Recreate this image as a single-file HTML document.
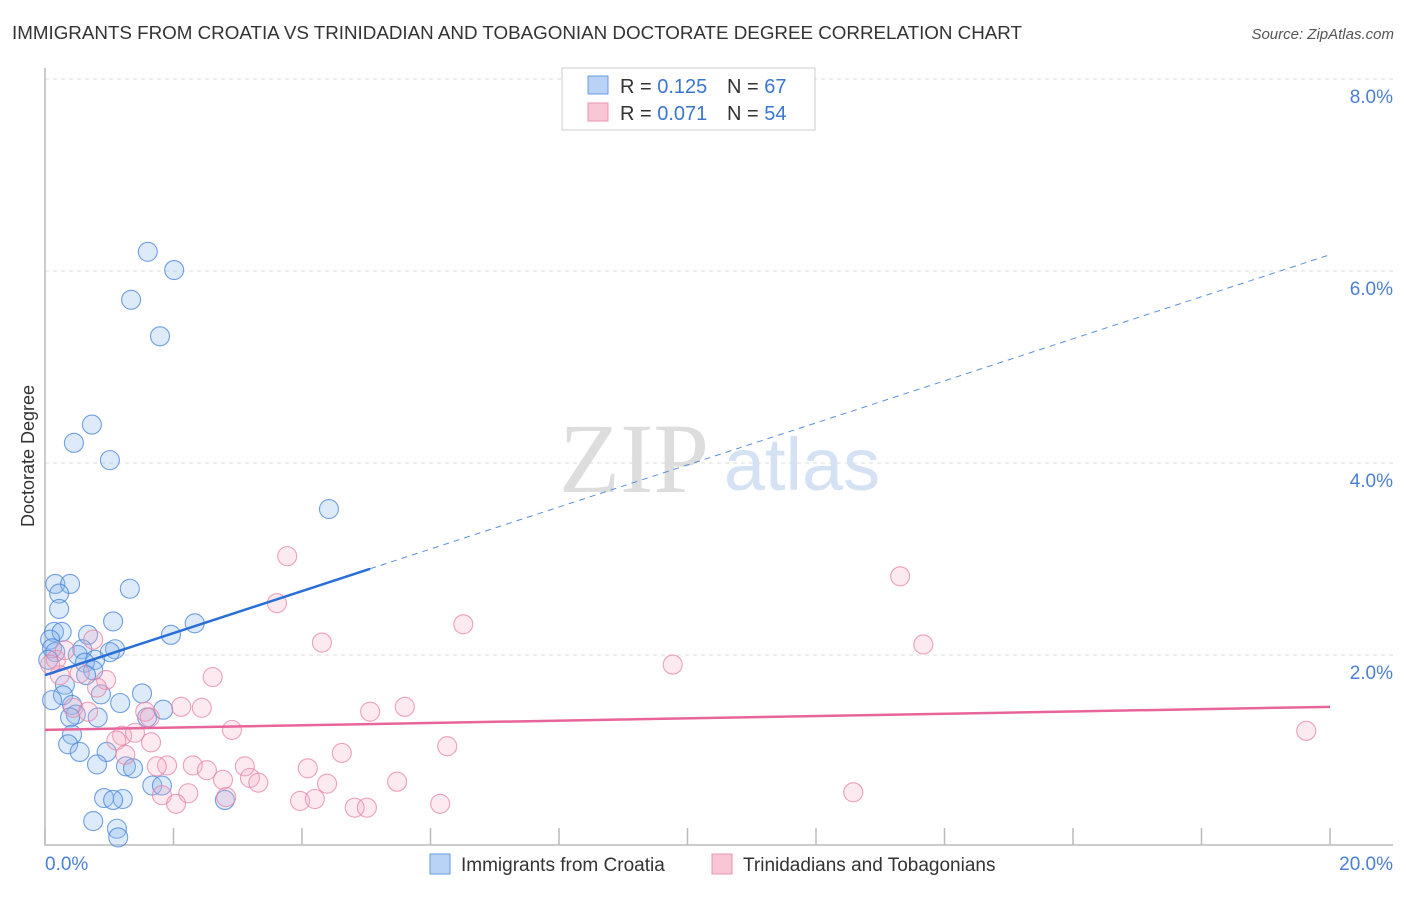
<!DOCTYPE html>
<html><head><meta charset="utf-8"><style>
body{margin:0;background:#fff;font-family:"Liberation Sans",sans-serif}
</style></head><body>
<svg id="c" width="1406" height="892" xmlns="http://www.w3.org/2000/svg">
<text x="12" y="39" font-size="18.8" fill="#333" textLength="1010">IMMIGRANTS FROM CROATIA VS TRINIDADIAN AND TOBAGONIAN DOCTORATE DEGREE CORRELATION CHART</text>
<text x="1394" y="39" font-size="15" fill="#555" font-style="italic" text-anchor="end">Source: ZipAtlas.com</text>
<text transform="translate(34,456) rotate(-90)" font-size="18" fill="#333" text-anchor="middle">Doctorate Degree</text>
<g><text x="634" y="492" font-size="100" fill="#ddd" font-family="Liberation Serif,serif" text-anchor="middle">ZIP</text><text x="802" y="490" font-size="74" fill="#d4e2f4" text-anchor="middle">atlas</text></g>
<g id="grid"></g><g id="pts"></g><g id="lines"></g>
<g>
<rect x="562" y="68" width="253" height="62" fill="#fff" stroke="#ccc"/>
<rect x="588" y="76" width="20" height="18" fill="#b8d3f5" stroke="#6a9be0"/>
<rect x="588" y="103" width="20" height="18" fill="#f9c6d6" stroke="#eb94b0"/>
<text x="620" y="93" font-size="20" fill="#333">R = <tspan fill="#3a76d0">0.125</tspan></text>
<text x="727" y="93" font-size="20" fill="#333">N = <tspan fill="#3a76d0">67</tspan></text>
<text x="620" y="120" font-size="20" fill="#333">R = <tspan fill="#3a76d0">0.071</tspan></text>
<text x="727" y="120" font-size="20" fill="#333">N = <tspan fill="#3a76d0">54</tspan></text>
</g>
<g>
<rect x="430" y="854" width="20" height="20" fill="#b8d3f5" stroke="#6a9be0"/>
<text x="461" y="871" font-size="19" fill="#333">Immigrants from Croatia</text>
<rect x="712" y="854" width="20" height="20" fill="#f9c6d6" stroke="#eb94b0"/>
<text x="743" y="871" font-size="19" fill="#333">Trinidadians and Tobagonians</text>
</g>
<text x="45" y="870" font-size="19" fill="#4a7fd4">0.0%</text>
<text x="1393" y="870" font-size="19" fill="#4a7fd4" text-anchor="end">20.0%</text>
</svg>
<script>
const yTicks=[2,4,6,8];
const yTickLabels=["2.0%","4.0%","6.0%","8.0%"];
const xTicks=[0,2,4,6,8,10,12,14,16,18,20];
const blueX=[1.60,2.01,1.34,1.79,0.73,0.45,1.01,4.42,0.16,0.39,0.22,1.32,0.22,1.06,2.33,0.14,0.26,0.67,1.96,0.08,1.09,0.11,0.58,0.51,1.01,0.78,0.16,0.62,0.75,0.64,0.31,0.28,0.87,1.51,1.17,1.84,0.42,0.48,1.59,0.39,0.82,0.42,0.36,0.54,0.96,0.81,1.26,1.37,1.67,1.82,0.92,1.21,1.06,2.80,0.75,1.12,1.14,0.05,0.11];
const blueY=[6.20,6.01,5.70,5.32,4.40,4.21,4.03,3.52,2.74,2.74,2.64,2.69,2.48,2.35,2.33,2.24,2.24,2.21,2.21,2.16,2.06,2.07,2.06,2.00,2.03,1.95,2.03,1.92,1.84,1.79,1.69,1.58,1.59,1.60,1.50,1.43,1.48,1.38,1.35,1.35,1.35,1.17,1.07,0.99,0.99,0.86,0.84,0.82,0.64,0.64,0.51,0.50,0.49,0.49,0.27,0.19,0.10,1.95,1.53];
const pinkX=[3.77,3.61,13.31,6.51,4.31,13.67,9.77,0.75,0.17,0.23,0.54,2.61,0.95,0.81,0.44,0.67,2.12,2.44,1.56,2.91,5.60,5.06,1.20,1.40,1.11,1.65,6.26,1.25,4.62,4.09,3.11,2.30,1.90,1.74,2.52,2.77,3.19,3.32,5.48,4.39,1.82,2.23,2.04,3.97,4.20,4.82,5.01,6.15,12.58,19.63,2.82,0.08,0.31,1.63];
const pinkY=[3.03,2.54,2.82,2.32,2.13,2.11,1.90,2.16,1.95,1.79,1.81,1.77,1.74,1.66,1.45,1.41,1.46,1.45,1.41,1.22,1.46,1.41,1.16,1.19,1.11,1.09,1.05,0.96,0.98,0.82,0.84,0.85,0.85,0.84,0.80,0.70,0.72,0.67,0.68,0.66,0.54,0.56,0.45,0.48,0.50,0.41,0.41,0.45,0.57,1.21,0.52,1.90,2.05,1.35];
const blueTrend=[1.79,6.17], blueSolidEnd=5.06;
const pinkTrend=[1.22,1.46];
const NS="http://www.w3.org/2000/svg";
const X=v=>45+v*64.25, Y=v=>847-v*96;
function mk(p,t,a){const e=document.createElementNS(NS,t);for(const k in a)e.setAttribute(k,a[k]);p.appendChild(e);return e;}
const g=document.getElementById('grid');
yTicks.forEach((t,i)=>{
 const l=mk(g,'line',{x1:45,x2:1393,y1:Y(t),y2:Y(t),stroke:'#ddd','stroke-dasharray':'4,4'});
 
 
 const tx=mk(g,'text',{x:1393,y:Y(t)+24,'font-size':19,fill:'#4a7fd4','text-anchor':'end'});
 tx.textContent=yTickLabels[i];
 
 
});
const ax=mk(g,'path',{d:'M45,68V845H1393',fill:'none',stroke:'#bbb','stroke-width':1.5});


xTicks.forEach(t=>{
 const l=mk(g,'line',{x1:X(t),x2:X(t),y1:828,y2:845,stroke:'#bbb','stroke-width':1.5});
 
 
});
const P=document.getElementById('pts');
blueX.forEach((v,i)=>{
 const c=mk(P,'circle',{cx:X(v),cy:Y(blueY[i]),r:9.5,fill:'rgba(140,185,240,0.3)',stroke:'rgba(70,130,215,0.75)','stroke-width':1.1});
 
 
});
pinkX.forEach((v,i)=>{
 const c=mk(P,'circle',{cx:X(v),cy:Y(pinkY[i]),r:9.5,fill:'rgba(245,170,195,0.25)',stroke:'rgba(232,130,165,0.75)','stroke-width':1.1});
 
 
});
const L=document.getElementById('lines');
const by=x=>blueTrend[0]+(blueTrend[1]-blueTrend[0])*x/20;
let a=mk(L,'line',{x1:X(0),y1:Y(by(0)),x2:X(blueSolidEnd),y2:Y(by(blueSolidEnd)),stroke:'#2a6fd6','stroke-width':2.5});


a=mk(L,'line',{x1:X(blueSolidEnd),y1:Y(by(blueSolidEnd)),x2:X(20),y2:Y(by(20)),stroke:'#5a90dc','stroke-width':1,'stroke-dasharray':'6,5'});


a=mk(L,'line',{x1:X(0),y1:Y(pinkTrend[0]),x2:X(20),y2:Y(pinkTrend[1]),stroke:'#e8659a','stroke-width':2.5});


</script>
</body></html>
